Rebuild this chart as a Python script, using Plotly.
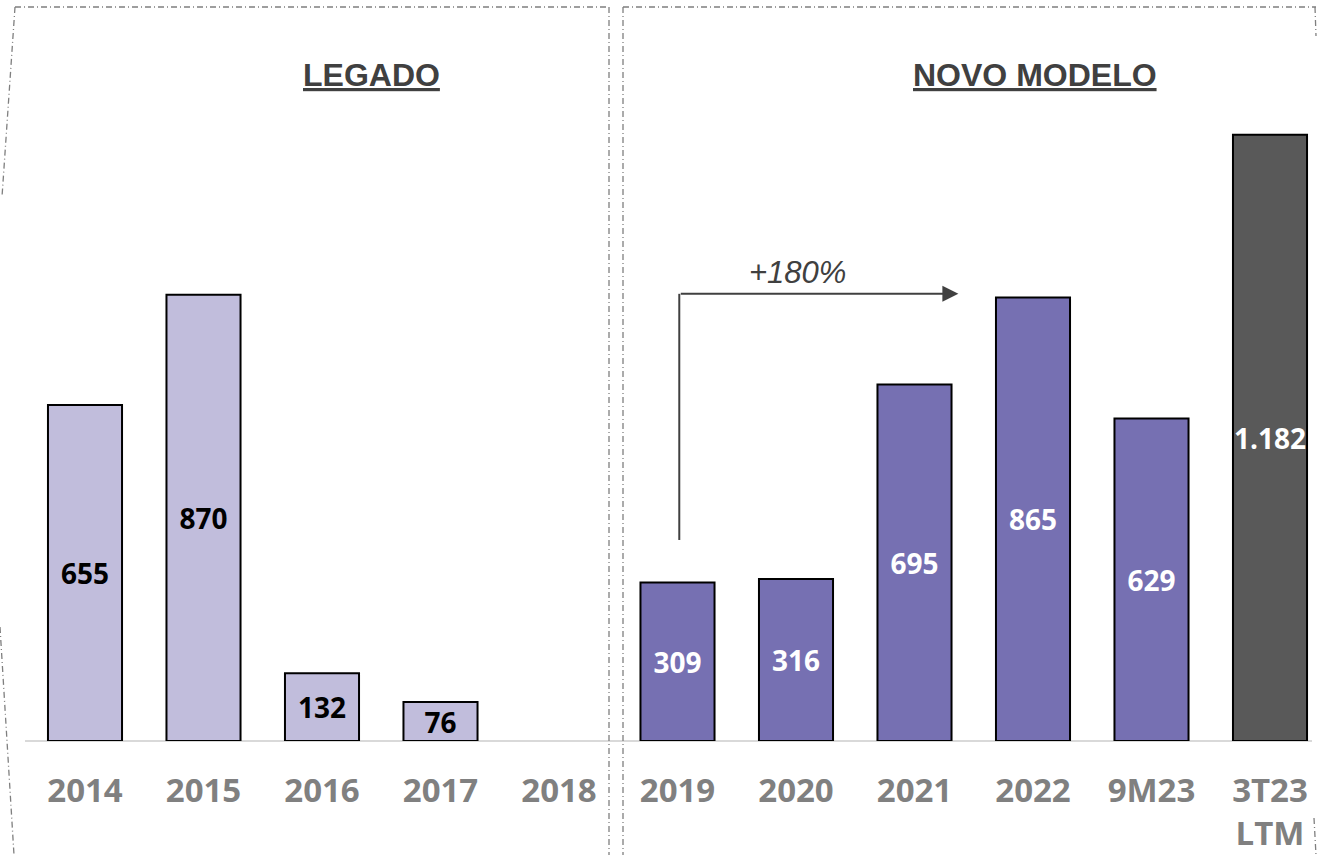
import plotly.graph_objects as go

# ---- data ----
categories = ["2014", "2015", "2016", "2017", "2018", "2019", "2020", "2021", "2022", "9M23", "3T23"]
tick_labels = ["2014", "2015", "2016", "2017", "2018", "2019", "2020", "2021", "2022", "9M23", "3T23<br>LTM"]
values = [655, 870, 132, 76, None, 309, 316, 695, 865, 629, 1182]
value_labels = ["655", "870", "132", "76", "", "309", "316", "695", "865", "629", "1.182"]
groups = ["legado"] * 5 + ["novo"] * 5 + ["ltm"]
section_titles = ["LEGADO", "NOVO MODELO"]
growth_label = "+180%"

# ---- styles ----
fill_map = {"legado": "#C1BDDC", "novo": "#7670B2", "ltm": "#595959"}
text_map = {"legado": "#000000", "novo": "#FFFFFF", "ltm": "#FFFFFF"}
colors = [fill_map[g] for g in groups]
text_colors = [text_map[g] for g in groups]

W, H = 1317, 855
BASE_PIX = 741  # baseline pixel row
PLOT_H = BASE_PIX

fig = go.Figure()
fig.add_trace(go.Bar(
    x=list(range(len(categories))),
    y=values,
    text=value_labels,
    textposition="inside",
    insidetextanchor="middle",
    textangle=0,
    constraintext="none",
    textfont=dict(family="Open Sans", size=28, color=text_colors, weight="bold"),
    marker=dict(color=colors, line=dict(color="#000000", width=2)),
    width=0.625,
    hoverinfo="skip",
))

def px_x(p):
    return p / W

def px_y(p):
    return (BASE_PIX - p) / PLOT_H

gray = "#7F7F7F"
dash = "6px,3px,1px,3px"
frame_segments = [
    ((15, 7), (608, 7)),
    ((609, 7), (609, 855)),
    ((15, 7), (2, 197)),
    ((0, 627), (14, 855)),
    ((623, 7), (1316, 7)),
    ((623, 7), (623, 855)),
    ((1315, 7), (1316, 36)),
    ((1314, 818), (1316, 855)),
]
shapes = []
for (x0, y0), (x1, y1) in frame_segments:
    shapes.append(dict(type="line", xref="paper", yref="paper",
                       x0=px_x(x0), y0=px_y(y0), x1=px_x(x1), y1=px_y(y1),
                       line=dict(color=gray, width=1.3, dash=dash)))
# baseline
shapes.append(dict(type="line", xref="paper", yref="paper",
                   x0=px_x(25), x1=px_x(1312), y0=0, y1=0,
                   line=dict(color="#D9D9D9", width=2), layer="below"))

# growth arrow: from 2019 up, then across toward 2022
i0 = categories.index("2019")
arrow_y = values[categories.index("2022")]
arrow_bottom = 392
arrow_end_x = 7.37
shapes.append(dict(type="line", xref="x", yref="y",
                   x0=i0 + 0.015, x1=i0 + 0.015, y0=arrow_bottom, y1=arrow_y + 7,
                   line=dict(color="#404040", width=2)))

annotations = [
    dict(x=arrow_end_x, y=arrow_y + 7, ax=i0 + 0.015, ay=arrow_y + 7,
         xref="x", yref="y", axref="x", ayref="y", text="",
         showarrow=True, arrowhead=2, arrowsize=1.6, arrowwidth=2, arrowcolor="#404040"),
    dict(x=6.01, y=arrow_y + 7, xref="x", yref="y",
         text=f"<i>{growth_label}</i>", showarrow=False, xanchor="center", yanchor="bottom", yshift=2,
         font=dict(family="Liberation Sans", size=31, color="#404040")),
    dict(x=px_x(371), y=px_y(75), xref="paper", yref="paper",
         text=f"<b><u>{section_titles[0]}</u></b>", showarrow=False,
         xanchor="center", yanchor="middle",
         font=dict(family="Liberation Sans", size=32, color="#404040")),
    dict(x=px_x(1035), y=px_y(75), xref="paper", yref="paper",
         text=f"<b><u>{section_titles[1]}</u></b>", showarrow=False,
         xanchor="center", yanchor="middle",
         font=dict(family="Liberation Sans", size=32, color="#404040")),
]

step = 118.5
c0 = 85
xmin = -c0 / step
xmax = (len(categories) - 1) + (W - (c0 + step * (len(categories) - 1))) / step
ymax = PLOT_H * 1.95

fig.update_layout(
    width=W, height=H,
    margin=dict(l=0, r=0, t=0, b=H - BASE_PIX, pad=0),
    plot_bgcolor="#FFFFFF", paper_bgcolor="#FFFFFF",
    showlegend=False,
    shapes=shapes,
    annotations=annotations,
    bargap=0.375,
    xaxis=dict(range=[xmin, xmax], tickmode="array",
               tickvals=list(range(len(categories))), ticktext=tick_labels,
               showgrid=False, zeroline=False, showline=False, ticks="",
               tickfont=dict(family="Open Sans", size=33, color="#808080", weight="bold"),
               ticklabelstandoff=27),
    yaxis=dict(range=[0, ymax], visible=False, showgrid=False, zeroline=False),
)

fig.write_html("out.html", config={"displayModeBar": False},
               post_script="document.body.style.margin='0';document.body.style.overflow='hidden';")
